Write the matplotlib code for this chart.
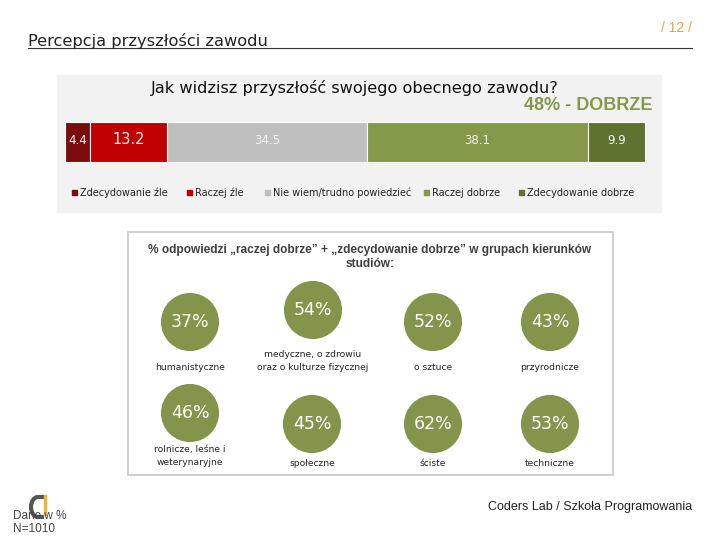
import numpy as np
import matplotlib.pyplot as plt
from matplotlib.patches import Rectangle, Arc

plt.rcParams['font.family'] = ['Liberation Sans', 'DejaVu Sans']
WIDE = ['DejaVu Sans']

# Data
answers = ['Zdecydowanie źle', 'Raczej źle', 'Nie wiem/trudno powiedzieć',
           'Raczej dobrze', 'Zdecydowanie dobrze']
shares = [4.4, 13.2, 34.5, 38.1, 9.9]
bar_colors = ['#7b0c0c', '#c00000', '#bfbfbf', '#84994a', '#5f7331']

groups = ['humanistyczne', 'medyczne, o zdrowiu\noraz o kulturze fizycznej',
          'o sztuce', 'przyrodnicze',
          'rolnicze, leśne i\nweterynaryjne', 'społeczne', 'ściste', 'techniczne']
good_pct = [37, 54, 52, 43, 46, 45, 62, 53]

W, H = 720, 540
fig = plt.figure(figsize=(7.2, 5.4), dpi=100)
bg = fig.add_axes([0, 0, 1, 1])
bg.set_xlim(0, W)
bg.set_ylim(H, 0)
bg.axis('off')

# header
bg.text(28, 41, 'Percepcja przyszłości zawodu', fontsize=11.7, family=WIDE,
        color='#222222', va='center')
bg.plot([28, 692], [48, 48], color='#333333', lw=0.8)
bg.text(692, 28, '/ 12 /', fontsize=10, color='#e8a24a', ha='right', va='center')

# grey panel for the bar chart
bg.add_patch(Rectangle((57, 75), 604, 137, color='#f2f2f2', zorder=0))
bg.text(355, 88, 'Jak widzisz przyszłość swojego obecnego zawodu?', fontsize=11.6,
        family=WIDE, ha='center', va='center', color='#111111')
bg.text(652, 105, '48% - DOBRZE', fontsize=13, fontweight='bold',
        color='#84994a', ha='right', va='center')

# stacked bar
ax = fig.add_axes([65 / W, 1 - 162 / H, 580 / W, 40 / H])
left = np.concatenate([[0], np.cumsum(shares)[:-1]])
ax.barh([0], shares, left=left, color=bar_colors, height=1, edgecolor='white', linewidth=0.8)
ax.set_xlim(0, sum(shares))
ax.set_ylim(-0.5, 0.5)
ax.axis('off')
for v, l in zip(shares, left):
    fs = 10.5 if v == 13.2 else 8.5
    ax.text(l + v / 2, 0.05, f'{v:.1f}', ha='center', va='center', color='#f4f4f4',
            fontsize=fs, family=WIDE)

# legend
leg_x = [75, 190, 268, 427, 522]
for x, name, c in zip(leg_x, answers, bar_colors):
    bg.add_patch(Rectangle((x - 3, 190), 5, 5, color=c))
    bg.text(x + 5, 193, name, fontsize=7, family=WIDE, va='center', color='#222222')

# circles panel
bg.add_patch(Rectangle((128, 232), 485, 243, fill=False, edgecolor='#c8c8c8', lw=1.2))
bg.text(370, 257, '% odpowiedzi „raczej dobrze” + „zdecydowanie dobrze” w grupach kierunków\nstudiów:',
        fontsize=8.6, fontweight='bold', color='#404040', ha='center', va='center',
        linespacing=1.3)

cx = [190, 313, 433, 550, 190, 312, 433, 550]
cy = [322, 310, 322, 322, 413, 424, 424, 424]
ly = [367, 361, 367, 367, 456, 463, 463, 463]
bg.scatter(cx, cy, s=1750, color='#84944a', zorder=3, edgecolors='none')
for x, y, p, g, yl in zip(cx, cy, good_pct, groups, ly):
    bg.text(x, y, f'{p}%', color='white', fontsize=12.5, family=WIDE,
            ha='center', va='center', zorder=4)
    bg.text(x, yl, g, fontsize=6.6, family=WIDE, ha='center', va='center',
            color='#222222', linespacing=1.6)

# footer
bg.add_patch(Arc((38, 507), 14, 20, theta1=90, theta2=270, color='#555555', lw=3))
bg.plot([38, 44], [497, 497], color='#555555', lw=3, solid_capstyle='butt')
bg.plot([38, 44], [517, 517], color='#555555', lw=3, solid_capstyle='butt')
bg.plot([45, 45], [496, 514], color='#f0b43c', lw=2.5)
bg.text(13, 516, 'Dane w %', fontsize=8.5, color='#444444', va='center')
bg.text(13, 529, 'N=1010', fontsize=8.5, color='#444444', va='center')
bg.text(692, 507, 'Coders Lab / Szkoła Programowania', fontsize=9,
        family=['Liberation Sans Narrow', 'Liberation Sans'], color='#222222',
        ha='right', va='center')

fig.savefig('out.png', dpi=100)
